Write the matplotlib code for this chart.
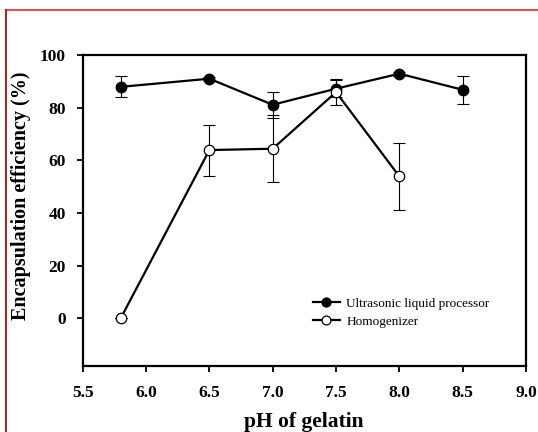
import numpy as np
import matplotlib.pyplot as plt
from matplotlib.lines import Line2D

plt.rcParams['font.family'] = ['Liberation Serif', 'DejaVu Serif']

# data
ph_us = [5.8, 6.5, 7.0, 7.5, 8.0, 8.5]
eff_us = [87.9, 91.0, 81.1, 87.2, 92.9, 86.8]
err_us = [4.0, 0.8, 5.0, 3.3, 0.8, 5.3]

ph_hg = [5.8, 6.5, 7.0, 7.5, 8.0]
eff_hg = [0.0, 63.9, 64.4, 85.9, 53.9]
err_hg = [0.0, 9.7, 12.8, 5.0, 12.8]

xticks = np.arange(5.5, 9.01, 0.5)
yticks = np.arange(0, 101, 20)

fig = plt.figure(figsize=(5.38, 4.32), dpi=100)
ax = fig.add_axes([82.7/538, 1-365.7/432, 443.3/538, 310.7/432])

# error bars drawn first, thin, with caps
ax.errorbar(ph_us, eff_us, yerr=err_us, fmt='none', ecolor='black',
            elinewidth=0.8, capsize=4, capthick=0.8, zorder=2)
ax.errorbar(ph_hg, eff_hg, yerr=err_hg, fmt='none', ecolor='black',
            elinewidth=0.8, capsize=4, capthick=0.8, zorder=2)

ax.plot(ph_us, eff_us, '-o', color='black', lw=1.6, ms=7.5,
        mfc='black', mec='black', label='Ultrasonic liquid processor', zorder=3)
ax.plot(ph_hg, eff_hg, '-o', color='black', lw=1.6, ms=7.5,
        mfc='white', mec='black', mew=0.9, label='Homogenizer', zorder=4)

ax.set_xlim(5.5, 9.0)
ax.set_ylim(-18, 100)
ax.set_xticks(xticks)
ax.set_xticklabels(['%.1f' % t for t in xticks])
ax.set_yticks(yticks)

for s in ax.spines.values():
    s.set_linewidth(1.6)
ax.tick_params(direction='out', length=4, width=1.3, labelsize=12.5)
ax.tick_params(axis='x', pad=10)
ax.tick_params(axis='y', pad=8)
for lab in ax.get_xticklabels() + ax.get_yticklabels():
    lab.set_fontweight('bold')

ax.set_xlabel('pH of gelatin', fontsize=15.5, fontweight='bold', va='center')
ax.set_ylabel('Encapsulation efficiency (%)', fontsize=14.5, fontweight='bold', va='center')
ax.xaxis.set_label_coords(0.499, -0.181)
ax.yaxis.set_label_coords(-0.139, 0.546)

leg = ax.legend(loc='lower left', bbox_to_anchor=(0.508, 0.105), frameon=False,
                fontsize=9.5, handlelength=2.0, handletextpad=0.5, labelspacing=0.45,
                borderaxespad=0, markerscale=0.85)

# red frame lines along the top and left edge
fig.add_artist(Line2D([6/538, 1], [1-10/432, 1-10/432], color='#c06060', lw=1.6))
fig.add_artist(Line2D([6/538, 6/538], [0, 1-10/432], color='#b81c1c', lw=1.4))

fig.savefig('out.png', dpi=100)
